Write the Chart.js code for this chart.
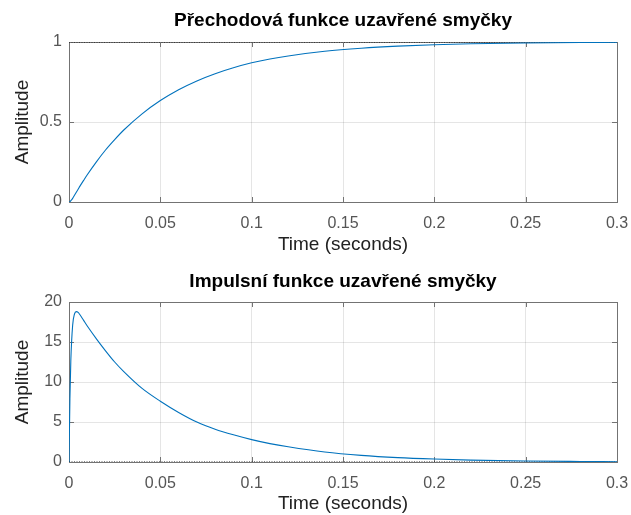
<!DOCTYPE html>
<html>
<head>
<meta charset="utf-8">
<script src="https://cdn.jsdelivr.net/npm/chart.js@4.4.1/dist/chart.umd.min.js"></script>
<style>
body { margin: 0; background: #fff; }
#wrap { position: relative; width: 631px; height: 515px; }
canvas { position: absolute; left: 0; }
</style>
</head>
<body>
<div id="wrap">
  <canvas id="stepChart" width="631" height="258" style="top:0"></canvas>
  <canvas id="impulseChart" width="631" height="257" style="top:258px"></canvas>
</div>
<script>
// čas (s)
const time = [0, 0.0005, 0.001, 0.002, 0.003, 0.004, 0.005, 0.006, 0.008, 0.01, 0.015, 0.02, 0.025, 0.03, 0.04,
  0.05, 0.06, 0.07, 0.08, 0.09, 0.1, 0.11, 0.12, 0.14, 0.16, 0.18, 0.2, 0.22, 0.25, 0.28, 0.3];

// přechodová funkce
const stepValues = [0, 0.002, 0.008, 0.023, 0.042, 0.061, 0.080, 0.099, 0.135, 0.170, 0.251, 0.325, 0.390, 0.450, 0.551,
  0.634, 0.702, 0.757, 0.802, 0.839, 0.870, 0.894, 0.913, 0.942, 0.961, 0.974, 0.983, 0.989, 0.994, 0.997, 0.998];

// impulsní funkce
const impulseValues = [0, 7.9, 12.7, 17.1, 18.5, 18.8, 18.7, 18.4, 17.7, 17.0, 15.4, 13.9, 12.5, 11.3, 9.2,
  7.6, 6.2, 5.0, 4.1, 3.4, 2.8, 2.3, 1.9, 1.25, 0.83, 0.55, 0.37, 0.24, 0.13, 0.07, 0.04];

// ustálená hodnota (tečkovaná čára)
const stepFinal = 1;
const impulseFinal = 0;

const xTicks = [0, 0.05, 0.1, 0.15, 0.2, 0.25, 0.3];
const xTickLabels = ['0', '0.05', '0.1', '0.15', '0.2', '0.25', '0.3'];
const stepYTicks = [0, 0.5, 1];
const stepYTickLabels = ['0', '0.5', '1'];
const impulseYTicks = [0, 5, 10, 15, 20];
const impulseYTickLabels = ['0', '5', '10', '15', '20'];

const FONT = '"Liberation Sans", Arial, Helvetica, sans-serif';

// rámeček kolem grafu + malé tick značky dovnitř
const boxPlugin = {
  id: 'box',
  beforeDatasetsDraw(chart) {
    const { ctx, chartArea: a, scales } = chart;
    ctx.save();
    ctx.strokeStyle = '#737373';
    ctx.lineWidth = 1;
    ctx.beginPath();
    scales.x.ticks.forEach(t => {
      const px = Math.round(scales.x.getPixelForValue(t.value)) + 0.5;
      ctx.moveTo(px, a.bottom); ctx.lineTo(px, a.bottom - 5);
      ctx.moveTo(px, a.top); ctx.lineTo(px, a.top + 5);
    });
    scales.y.ticks.forEach(t => {
      const py = Math.round(scales.y.getPixelForValue(t.value)) + 0.5;
      ctx.moveTo(a.left, py); ctx.lineTo(a.left + 5, py);
      ctx.moveTo(a.right, py); ctx.lineTo(a.right - 5, py);
    });
    ctx.stroke();
    ctx.strokeRect(Math.round(a.left) + 0.5, Math.round(a.top) + 0.5,
      Math.round(a.right - a.left), Math.round(a.bottom - a.top));
    ctx.restore();
  }
};

function makeChart(id, title, values, finalValue, yTicks, yTickLabels, yMax, titlePad, xAxisHeight, xTitlePad) {
  const ctx = document.getElementById(id).getContext('2d');
  return new Chart(ctx, {
    type: 'line',
    data: {
      datasets: [{
        data: time.map((t, i) => ({ x: t, y: values[i] })),
        borderColor: '#0072BD',
        borderWidth: 1.1,
        pointRadius: 0,
        cubicInterpolationMode: 'monotone',
        fill: false
      }, {
        data: [{ x: xTicks[0], y: finalValue }, { x: xTicks[xTicks.length - 1], y: finalValue }],
        borderColor: '#000',
        borderWidth: 1,
        borderDash: [1, 1.5],
        pointRadius: 0,
        fill: false
      }]
    },
    options: {
      responsive: false,
      animation: false,
      layout: { padding: { left: 0, right: 14, top: 0, bottom: 0 } },
      plugins: {
        legend: { display: false },
        tooltip: { enabled: false },
        title: {
          display: true,
          fullSize: false, // nadpis vystředěný nad plochou grafu
          text: title,
          color: '#000',
          font: { family: FONT, size: 19, weight: 'bold', lineHeight: 1.2 },
          padding: titlePad
        }
      },
      scales: {
        x: {
          type: 'linear',
          min: 0,
          max: 0.3,
          afterBuildTicks: s => { s.ticks = xTicks.map(v => ({ value: v })); },
          afterFit: s => { s.height = xAxisHeight; s.paddingLeft = 0; s.paddingRight = 0; },
          ticks: {
            color: '#555',
            font: { family: FONT, size: 16, lineHeight: 1.2 },
            padding: 12,
            maxRotation: 0,
            callback: (v, i) => xTickLabels[i]
          },
          grid: { color: 'rgba(0,0,0,0.1)', drawTicks: false },
          border: { display: false },
          title: {
            display: true,
            text: 'Time (seconds)',
            color: '#222',
            font: { family: FONT, size: 19, lineHeight: 1.2 },
            padding: { top: 0, bottom: xTitlePad }
          }
        },
        y: {
          min: 0,
          max: yMax,
          afterBuildTicks: s => { s.ticks = yTicks.map(v => ({ value: v })); },
          afterFit: s => { s.width = 69; s.paddingTop = 0; s.paddingBottom = 0; },
          ticks: {
            color: '#555',
            font: { family: FONT, size: 16, lineHeight: 1.2 },
            padding: 7,
            callback: (v, i) => yTickLabels[i]
          },
          grid: { color: 'rgba(0,0,0,0.1)', drawTicks: false },
          border: { display: false },
          title: {
            display: true,
            text: 'Amplitude',
            color: '#222',
            font: { family: FONT, size: 19, lineHeight: 1.2 },
            padding: { top: 11, bottom: 0 }
          }
        }
      }
    },
    plugins: [boxPlugin]
  });
}

makeChart('stepChart', 'Přechodová funkce uzavřené smyčky', stepValues, stepFinal,
  stepYTicks, stepYTickLabels, 1, { top: 9, bottom: 10.2 }, 56, 2);
makeChart('impulseChart', 'Impulsní funkce uzavřené smyčky', impulseValues, impulseFinal,
  impulseYTicks, impulseYTickLabels, 20, { top: 12, bottom: 9.2 }, 53, 0);
</script>
</body>
</html>
